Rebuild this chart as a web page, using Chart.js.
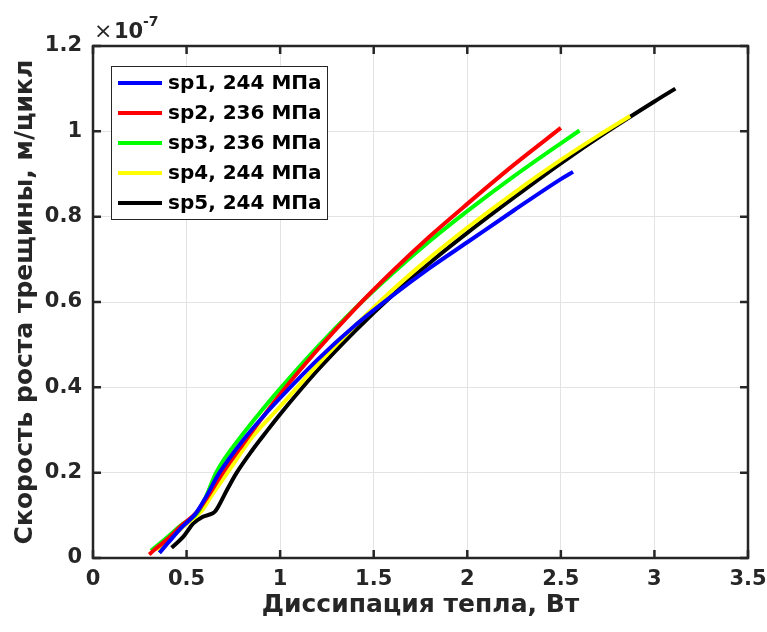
<!DOCTYPE html>
<html><head><meta charset="utf-8">
<script src="https://cdn.jsdelivr.net/npm/chart.js@4.4.1/dist/chart.umd.min.js"></script>
<style>html,body{margin:0;padding:0;background:#fff}#wrap{width:767px;height:632px}</style>
</head><body><div id="wrap"><canvas id="c" width="767" height="632"></canvas></div>
<script>
// Values in units of 1e-7 m/cycle (axis multiplier shown as ×10^-7)
const seriesNames = ['sp1, 244 МПа','sp2, 236 МПа','sp3, 236 МПа','sp4, 244 МПа','sp5, 244 МПа'];
const seriesColors = ['#0000ff','#ff0000','#00ff00','#ffff00','#000000'];

const sp1X = [0.355,0.40,0.47,0.55,0.60,0.676,0.80,0.90,1.00,1.20,1.40,1.60,1.80,2.00,2.25,2.50,2.565];
const sp1Y = [0.012,0.035,0.07,0.105,0.14,0.20,0.275,0.327,0.375,0.465,0.545,0.615,0.68,0.74,0.815,0.888,0.905];

const sp2X = [0.30,0.33,0.40,0.47,0.55,0.60,0.694,0.80,0.90,1.00,1.20,1.40,1.60,1.80,2.00,2.25,2.50];
const sp2Y = [0.008,0.02,0.045,0.075,0.105,0.135,0.20,0.266,0.326,0.384,0.488,0.584,0.672,0.754,0.83,0.922,1.008];

const sp3X = [0.31,0.40,0.465,0.563,0.60,0.658,0.80,0.90,1.00,1.20,1.40,1.60,1.80,2.00,2.25,2.50,2.60];
const sp3Y = [0.017,0.05,0.075,0.109,0.14,0.20,0.29,0.345,0.397,0.495,0.585,0.667,0.743,0.813,0.895,0.972,1.002];

const sp4X = [0.34,0.40,0.50,0.58,0.64,0.719,0.85,1.00,1.20,1.40,1.60,1.80,2.00,2.25,2.50,2.70,2.87];
const sp4Y = [0.019,0.04,0.08,0.11,0.15,0.20,0.283,0.355,0.453,0.544,0.628,0.704,0.774,0.856,0.933,0.99,1.036];

const sp5X = [0.42,0.483,0.536,0.58,0.617,0.652,0.715,0.768,0.85,0.93,1.00,1.20,1.40,1.60,1.80,2.00,2.25,2.50,2.75,3.00,3.112];
const sp5Y = [0.024,0.05,0.081,0.095,0.101,0.109,0.159,0.20,0.252,0.298,0.337,0.44,0.532,0.616,0.692,0.762,0.845,0.925,1.00,1.07,1.10];

const xTickValues = [0,0.5,1,1.5,2,2.5,3,3.5];
const xTickLabels = ['0','0.5','1','1.5','2','2.5','3','3.5'];
const yTickValues = [0,0.2,0.4,0.6,0.8,1,1.2];
const yTickLabels = ['0','0.2','0.4','0.6','0.8','1','1.2'];
const yExponent = '-7';
const xTitle = 'Диссипация тепла, Вт';
const yTitle = 'Скорость роста трещины, м/цикл';

const seriesX = [sp1X,sp2X,sp3X,sp4X,sp5X];
const seriesY = [sp1Y,sp2Y,sp3Y,sp4Y,sp5Y];

const TXT = '#262626';
const FONT = '"DejaVu Sans", "Liberation Sans", sans-serif';

const datasets = seriesNames.map((n,i)=>({
  label:n,
  data: seriesX[i].map((x,j)=>({x:x,y:seriesY[i][j]})),
  borderColor: seriesColors[i],
  backgroundColor: seriesColors[i],
  borderWidth: 4,
  pointRadius: 0,
  fill:false,
  cubicInterpolationMode:'monotone'
}));

const framePlugin = {
  id:'frame',
  afterDatasetsDraw(chart){
    const {ctx, chartArea:a, scales:{x,y}} = chart;
    ctx.save();
    ctx.strokeStyle = TXT; ctx.lineWidth = 2.5;
    ctx.beginPath();
    x.ticks.forEach(t=>{const p=x.getPixelForValue(t.value);
      ctx.moveTo(p,a.bottom); ctx.lineTo(p,a.bottom-8);
      ctx.moveTo(p,a.top); ctx.lineTo(p,a.top+8);});
    y.ticks.forEach(t=>{const p=y.getPixelForValue(t.value);
      ctx.moveTo(a.left,p); ctx.lineTo(a.left+8,p);
      ctx.moveTo(a.right,p); ctx.lineTo(a.right-8,p);});
    ctx.stroke();
    ctx.strokeRect(a.left,a.top,a.right-a.left,a.bottom-a.top);

    // legend
    const lx = a.left+18, ly = a.top+20, lw = 216, lh = 153;
    ctx.fillStyle='#fff'; ctx.fillRect(lx,ly,lw,lh);
    ctx.lineWidth=1; ctx.strokeStyle=TXT; ctx.strokeRect(lx+0.5,ly+0.5,lw,lh);
    ctx.font = 'bold 20px '+FONT; ctx.textBaseline='middle'; ctx.textAlign='left';
    chart.data.datasets.forEach((d,i)=>{
      const yy = ly+17+i*30;
      ctx.strokeStyle=d.borderColor; ctx.lineWidth=4;
      ctx.beginPath(); ctx.moveTo(lx+7,yy); ctx.lineTo(lx+51,yy); ctx.stroke();
      ctx.fillStyle='#000'; ctx.fillText(d.label, lx+57, yy+1);
    });

    // exponent label
    ctx.fillStyle=TXT; ctx.textBaseline='alphabetic';
    ctx.font = '22px '+FONT; ctx.fillText('×', a.left+1, a.top-8);
    ctx.font = 'bold 21px '+FONT; ctx.fillText('10', a.left+21, a.top-8);
    ctx.font = 'bold 14px '+FONT; ctx.fillText(yExponent, a.left+50, a.top-20);
    ctx.restore();
  }
};

new Chart(document.getElementById('c'), {
  type:'line',
  data:{datasets},
  plugins:[framePlugin],
  options:{
    responsive:false, animation:false, devicePixelRatio:1,
    layout:{padding:{top:46,right:19,left:0,bottom:0}},
    plugins:{legend:{display:false}, tooltip:{enabled:false}},
    scales:{
      x:{type:'linear', min:0, max:3.5,
        afterBuildTicks:s=>{s.ticks = xTickValues.map(v=>({value:v}));},
        afterFit:s=>{s.height=74; s.paddingLeft=0; s.paddingRight=0;},
        ticks:{callback:(v,i)=>xTickLabels[i], color:TXT, font:{family:FONT, size:21, weight:'bold'}, padding:9, maxRotation:0, autoSkip:false},
        grid:{color:'#e3e3e3', lineWidth:1, drawTicks:false},
        border:{display:false},
        title:{display:true, text:xTitle, color:TXT, font:{family:FONT, size:25, weight:'bold'}, padding:{top:0,bottom:12}}
      },
      y:{type:'linear', min:0, max:1.2,
        afterBuildTicks:s=>{s.ticks = yTickValues.map(v=>({value:v}));},
        afterFit:s=>{s.width=93; s.paddingTop=0; s.paddingBottom=0;},
        ticks:{callback:(v,i)=>yTickLabels[i], color:TXT, font:{family:FONT, size:21, weight:'bold'}, padding:11, autoSkip:false},
        grid:{color:'#e3e3e3', lineWidth:1, drawTicks:false},
        border:{display:false},
        title:{display:true, text:yTitle, color:TXT, font:{family:FONT, size:25, weight:'bold'}, padding:{top:10,bottom:0}}
      }
    }
  }
});
</script></body></html>
